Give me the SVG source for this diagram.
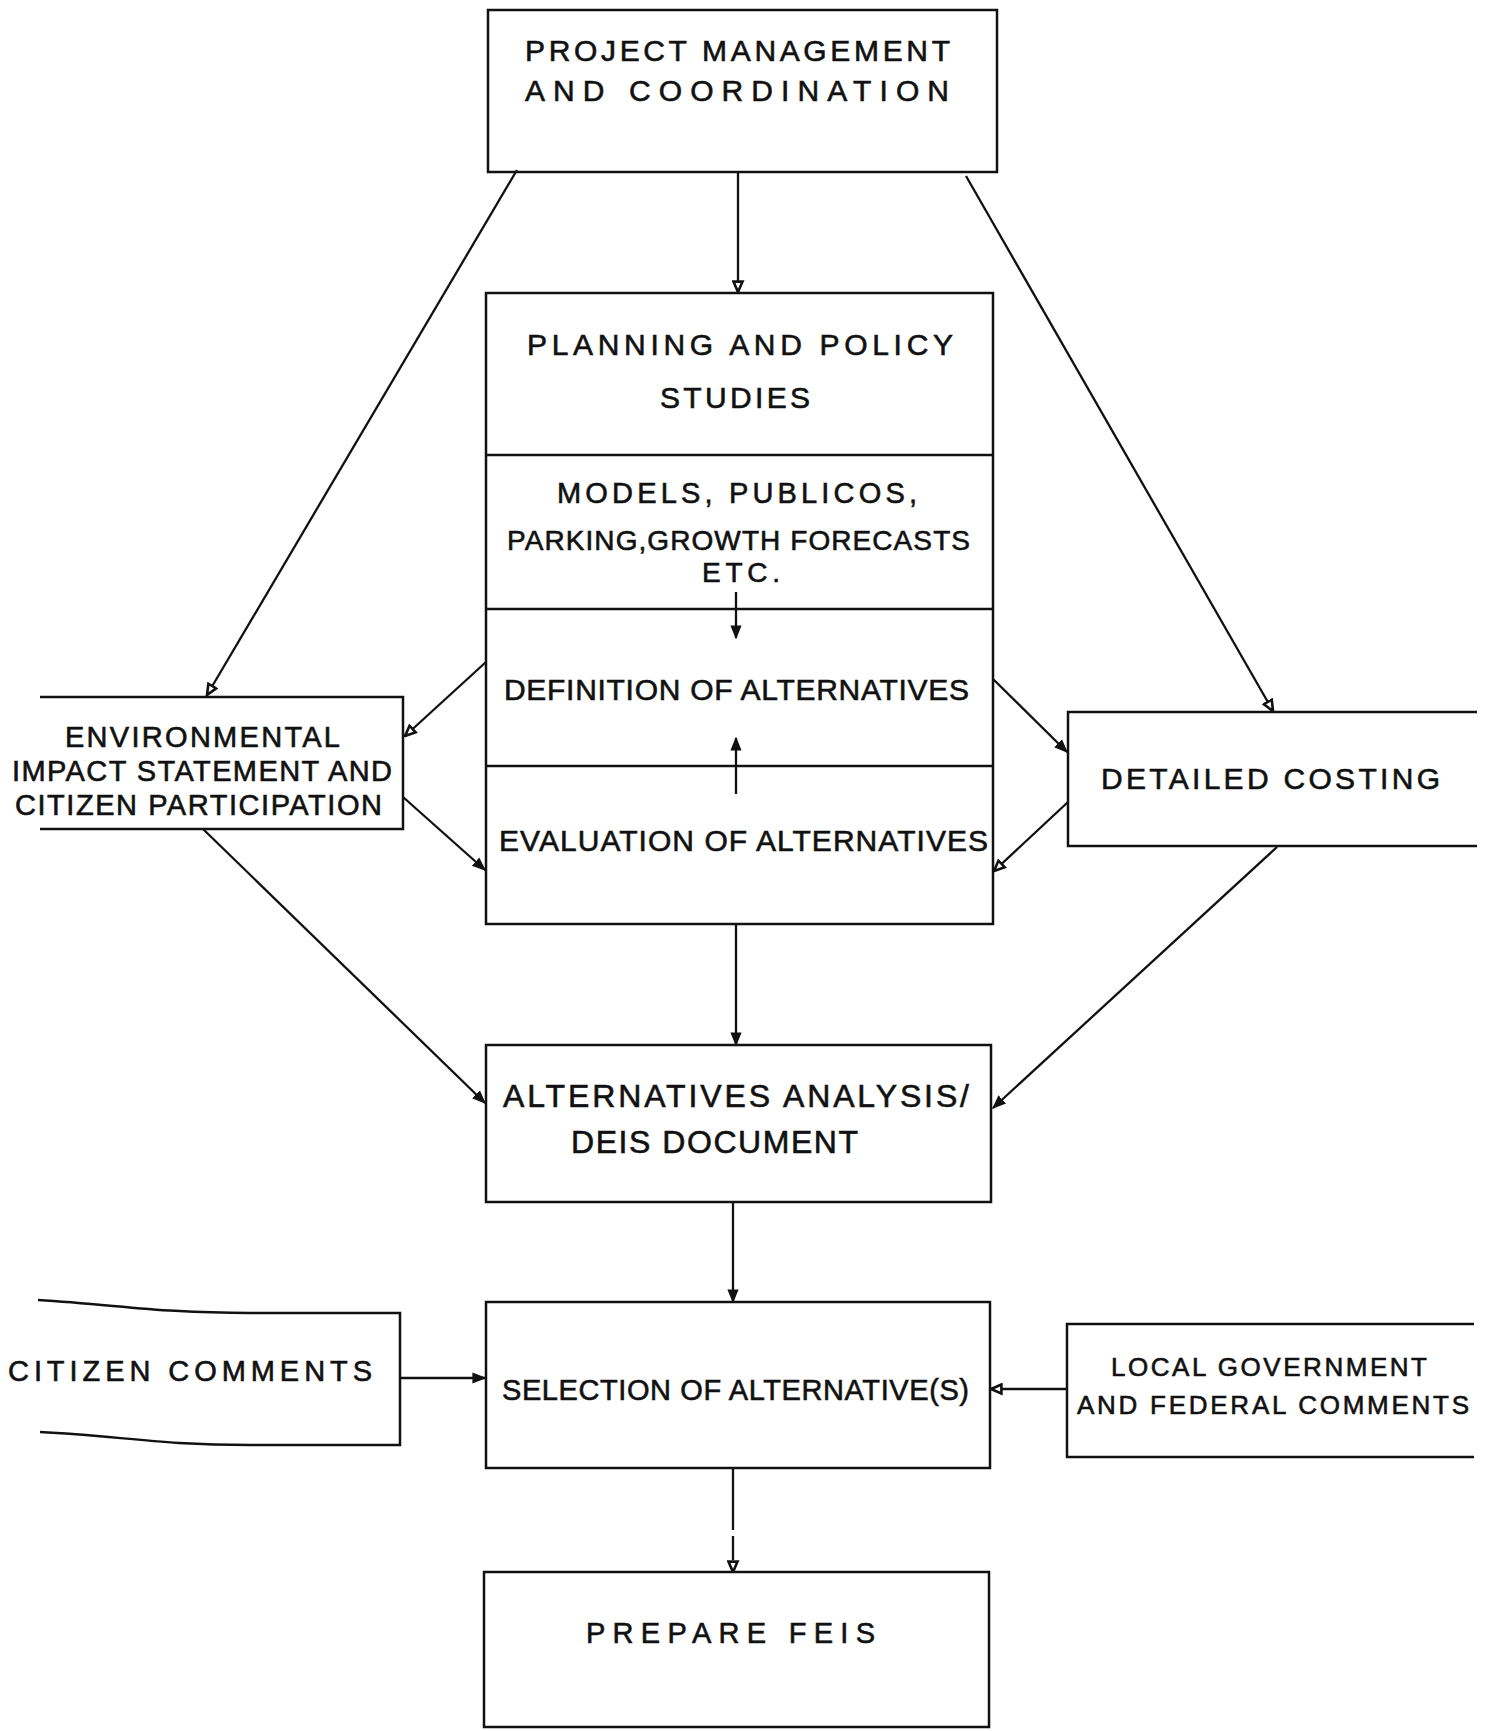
<svg xmlns="http://www.w3.org/2000/svg" width="1489" height="1731" viewBox="0 0 1489 1731">
<style>
.bx{fill:none;stroke:#111;stroke-width:2.5}
.ln{fill:none;stroke:#111;stroke-width:2.3}
.t{font-family:"Liberation Sans",Arial,sans-serif;fill:#111;stroke:#111;stroke-width:0.6}
</style>
<defs>
<marker id="solid" markerUnits="userSpaceOnUse" markerWidth="14" markerHeight="14" viewBox="0 0 10 10" refX="9" refY="5" orient="auto">
<path d="M0,1 L10,5 L0,9 z" fill="#111"/>
</marker>
<marker id="open" markerUnits="userSpaceOnUse" markerWidth="13" markerHeight="13" viewBox="0 0 10 10" refX="9" refY="5" orient="auto">
<path d="M1,1.5 L9,5 L1,8.5 z" fill="#fff" stroke="#111" stroke-width="2"/>
</marker>
</defs>
<rect width="1489" height="1731" fill="#fff"/>

<g id="connectors">
<line class="ln" x1="738" y1="172" x2="738" y2="292" marker-end="url(#open)"/>
<line class="ln" x1="517" y1="170" x2="207" y2="695" marker-end="url(#open)"/>
<line class="ln" x1="966" y1="176" x2="1273" y2="711" marker-end="url(#open)"/>
<line class="ln" x1="736" y1="592" x2="736" y2="638" marker-end="url(#solid)"/>
<line class="ln" x1="736" y1="794" x2="736" y2="738" marker-end="url(#solid)"/>
<line class="ln" x1="486" y1="662" x2="405" y2="736" marker-end="url(#open)"/>
<line class="ln" x1="403" y1="797" x2="485" y2="870" marker-end="url(#solid)"/>
<line class="ln" x1="993" y1="679" x2="1067" y2="752" marker-end="url(#solid)"/>
<line class="ln" x1="1068" y1="802" x2="994" y2="871" marker-end="url(#open)"/>
<line class="ln" x1="736" y1="924" x2="736" y2="1045" marker-end="url(#solid)"/>
<line class="ln" x1="203" y1="829" x2="485" y2="1103" marker-end="url(#solid)"/>
<line class="ln" x1="1277" y1="847" x2="993" y2="1108" marker-end="url(#solid)"/>
<line class="ln" x1="733" y1="1202" x2="733" y2="1302" marker-end="url(#solid)"/>
<line class="ln" x1="400" y1="1378" x2="485" y2="1378" marker-end="url(#solid)"/>
<line class="ln" x1="1067" y1="1389" x2="991" y2="1389" marker-end="url(#open)"/>
<line class="ln" x1="733" y1="1468" x2="733" y2="1572" stroke-dasharray="62 6 24 5" marker-end="url(#open)"/>
</g>

<g id="n-project">
<rect class="bx" x="488" y="10" width="509" height="162"/>
<text class="t" x="525" y="61" font-size="30" textLength="425" lengthAdjust="spacing">PROJECT MANAGEMENT</text>
<text class="t" x="525" y="101" font-size="30" textLength="424" lengthAdjust="spacing">AND COORDINATION</text>
</g>

<g id="n-planning">
<rect class="bx" x="486" y="293" width="507" height="631"/>
<line class="bx" x1="486" y1="455" x2="993" y2="455"/>
<text class="t" x="527" y="355" font-size="30" textLength="426" lengthAdjust="spacing">PLANNING AND POLICY</text>
<text class="t" x="660" y="408" font-size="30" textLength="150" lengthAdjust="spacing">STUDIES</text>
</g>

<g id="n-models">
<line class="bx" x1="486" y1="609" x2="993" y2="609"/>
<text class="t" x="557" y="503" font-size="29" textLength="360" lengthAdjust="spacing">MODELS, PUBLICOS,</text>
<text class="t" x="507" y="550" font-size="28" textLength="463" lengthAdjust="spacing">PARKING,GROWTH FORECASTS</text>
<text class="t" x="702" y="582" font-size="28" textLength="78" lengthAdjust="spacing">ETC.</text>
</g>

<g id="n-definition">
<line class="bx" x1="486" y1="766" x2="993" y2="766"/>
<text class="t" x="504" y="700" font-size="30" textLength="465" lengthAdjust="spacing">DEFINITION OF ALTERNATIVES</text>
</g>

<g id="n-evaluation">
<text class="t" x="499" y="851" font-size="30" textLength="489" lengthAdjust="spacing">EVALUATION OF ALTERNATIVES</text>
</g>

<g id="n-eis">
<path class="bx" d="M40,697 H403 V829 H40"/>
<text class="t" x="65" y="747" font-size="29" textLength="275" lengthAdjust="spacing">ENVIRONMENTAL</text>
<text class="t" x="12" y="781" font-size="29" textLength="380" lengthAdjust="spacing">IMPACT STATEMENT AND</text>
<text class="t" x="15" y="815" font-size="29" textLength="367" lengthAdjust="spacing">CITIZEN PARTICIPATION</text>
</g>

<g id="n-costing">
<path class="bx" d="M1477,712 H1068 V846 H1477"/>
<text class="t" x="1101" y="789" font-size="30" textLength="339" lengthAdjust="spacing">DETAILED COSTING</text>
</g>

<g id="n-alternatives">
<rect class="bx" x="486" y="1045" width="505" height="157"/>
<text class="t" x="503" y="1107" font-size="32" textLength="466" lengthAdjust="spacing">ALTERNATIVES ANALYSIS/</text>
<text class="t" x="571" y="1153" font-size="32" textLength="287" lengthAdjust="spacing">DEIS DOCUMENT</text>
</g>

<g id="n-selection">
<rect class="bx" x="486" y="1302" width="504" height="166"/>
<text class="t" x="502" y="1400" font-size="29" textLength="467" lengthAdjust="spacing">SELECTION OF ALTERNATIVE(S)</text>
</g>

<g id="n-citizen">
<path class="bx" d="M38,1300 C120,1305 160,1313 250,1313 H400 V1445 H250 C160,1445 120,1436 40,1432"/>
<text class="t" x="8" y="1381" font-size="29" textLength="364" lengthAdjust="spacing">CITIZEN COMMENTS</text>
</g>

<g id="n-local">
<path class="bx" d="M1474,1324 H1067 V1457 H1474"/>
<text class="t" x="1111" y="1376" font-size="26" textLength="316" lengthAdjust="spacing">LOCAL GOVERNMENT</text>
<text class="t" x="1077" y="1414" font-size="26" textLength="392" lengthAdjust="spacing">AND FEDERAL COMMENTS</text>
</g>

<g id="n-prepare">
<rect class="bx" x="484" y="1572" width="505" height="155"/>
<text class="t" x="586" y="1643" font-size="29" textLength="289" lengthAdjust="spacing">PREPARE FEIS</text>
</g>
</svg>
